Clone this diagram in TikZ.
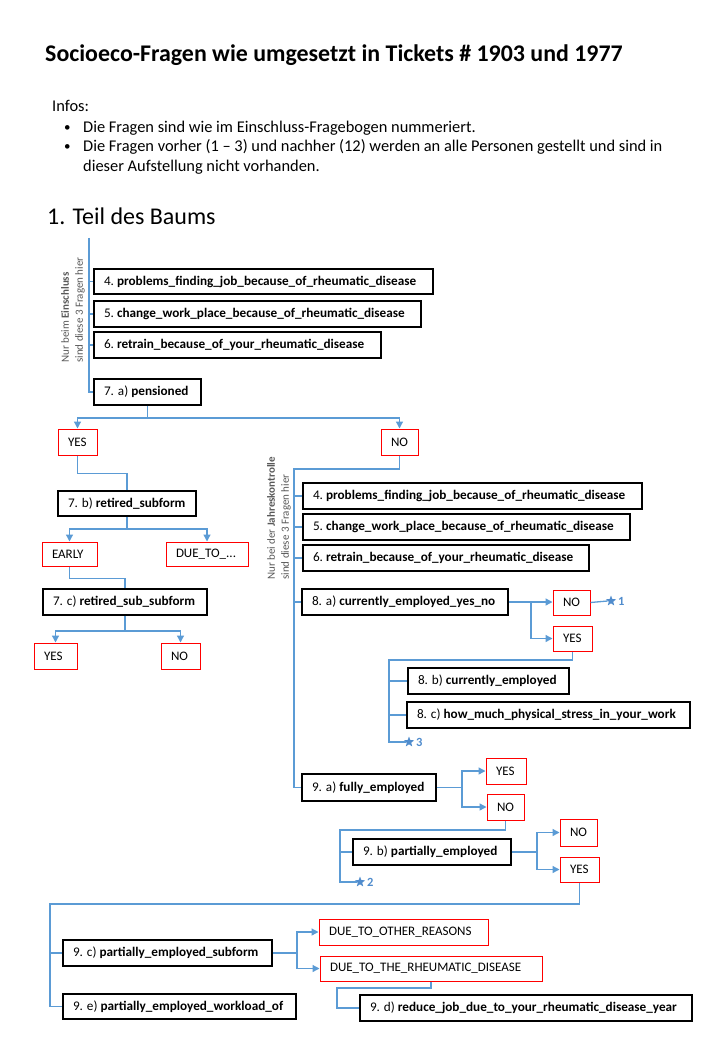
\documentclass[tikz,border=0pt]{standalone}
\usepackage{fontspec}
\setmainfont{Carlito}
\usetikzlibrary{arrows.meta,shapes.geometric}
\definecolor{lblue}{RGB}{91,155,213}
\definecolor{sblue}{RGB}{80,140,205}
\definecolor{rred}{RGB}{255,0,0}
\definecolor{tgray}{RGB}{89,89,89}
\newcommand{\bx}[7]{\node[#1, minimum height={#6pt-#4pt}, minimum width={#5pt-#3pt}] (#2) at ({(#3+#5)/2},{(#4+#6)/2}) {\makebox[\dimexpr#5pt-#3pt-20pt\relax][l]{#7}};}
\newcommand{\qt}[2]{#1~\textbf{#2}}
\tikzset{
 qbox/.style={draw=black, line width=1.8pt, inner xsep=10pt, inner ysep=0pt, font=\fontsize{13.2}{15}\selectfont},
 abox/.style={draw=rred, line width=1pt, inner xsep=10pt, inner ysep=0pt, font=\fontsize{13}{15}\selectfont},
 conn/.style={draw=lblue, line width=1.3pt},
 arr/.style={conn, -{Triangle[length=7pt,width=7pt]}},
 starnode/.style={star, star points=5, star point ratio=2.4, fill=sblue, minimum size=11pt, inner sep=0pt},
 stnum/.style={text=sblue, font=\fontsize{12.5}{14}\selectfont\bfseries, anchor=west, inner sep=0pt},
 txt/.style={anchor=base west, inner sep=0pt},
 info/.style={txt, font=\fontsize{16.4}{20}\selectfont},
 rot/.style={rotate=90, anchor=north west, align=left, inner sep=0pt, font=\fontsize{11}{14}\selectfont, text=tgray},
}
\begin{document}
\begin{tikzpicture}[x=1pt,y=-1pt]
\useasboundingbox[fill=white] (0,0) rectangle (720,1040);
% header
\node[txt, font=\fontsize{23.9}{28}\selectfont\bfseries] (title) at (45,62) {Socioeco-Fragen wie umgesetzt in Tickets \# 1903 und 1977};
\node[info] (infos) at (52,112) {Infos:};
\node[info, font=\fontsize{13}{20}\selectfont] (b1) at (64,132) {•};
\node[info] (b1t) at (83,133) {Die Fragen sind wie im Einschluss-Fragebogen nummeriert.};
\node[info, font=\fontsize{13}{20}\selectfont] (b2) at (64,151) {•};
\node[info] (b2t) at (83,152) {Die Fragen vorher (1 – 3) und nachher (12) werden an alle Personen gestellt und sind in};
\node[info] (b3t) at (83,172) {dieser Aufstellung nicht vorhanden.};
\node[txt, font=\fontsize{24}{28}\selectfont] (teil) at (47,225) {1. Teil des Baums};
% rotated notes
\node[rot] (rotL) at (61,363) {Nur beim \textbf{Einschluss}\\sind diese 3 Fragen hier};
\node[rot] (rotR) at (267,580) {Nur bei der \textbf{Jahreskontrolle}\\sind diese 3 Fragen hier};
% left question boxes
\bx{qbox}{q4L}{94}{269}{433}{294}{\qt{4.}{problems\_finding\_job\_because\_of\_rheumatic\_disease}}
\bx{qbox}{q5L}{94}{301}{421}{327}{\qt{5.}{change\_work\_place\_because\_of\_rheumatic\_disease}}
\bx{qbox}{q6L}{94}{332}{381}{358}{\qt{6.}{retrain\_because\_of\_your\_rheumatic\_disease}}
\bx{qbox}{pens}{94}{379}{201}{405}{\qt{7. a)}{pensioned}}
\bx{abox}{yes7}{58}{429}{97}{455}{YES}
\bx{abox}{no7}{381}{429}{418}{455}{NO}
\bx{qbox}{q7b}{58}{491}{196}{516}{\qt{7. b)}{retired\_subform}}
\bx{abox}{early}{42}{542}{97}{566}{EARLY}
\bx{abox}{due}{166}{542}{248}{566}{DUE\_TO\_...}
\bx{qbox}{q7c}{43}{589}{207}{615}{\qt{7. c)}{retired\_sub\_subform}}
\bx{abox}{yes7c}{34}{643}{77}{669}{YES}
\bx{abox}{no7c}{161}{643}{200}{669}{NO}
% right question boxes
\bx{qbox}{q4R}{303}{483}{642}{509}{\qt{4.}{problems\_finding\_job\_because\_of\_rheumatic\_disease}}
\bx{qbox}{q5R}{303}{514}{630}{540}{\qt{5.}{change\_work\_place\_because\_of\_rheumatic\_disease}}
\bx{qbox}{q6R}{303}{545}{589}{571}{\qt{6.}{retrain\_because\_of\_your\_rheumatic\_disease}}
\bx{qbox}{q8a}{302}{589}{508}{615}{\qt{8. a)}{currently\_employed\_yes\_no}}
\bx{abox}{no8}{553}{590}{590}{615}{NO}
\bx{abox}{yes8}{553}{626}{592}{651}{YES}
\bx{qbox}{q8b}{408}{668}{569}{694}{\qt{8. b)}{currently\_employed}}
\bx{qbox}{q8c}{407}{702}{690}{728}{\qt{8. c)}{how\_much\_physical\_stress\_in\_your\_work}}
\bx{qbox}{q9a}{302}{774}{436}{801}{\qt{9. a)}{fully\_employed}}
\bx{abox}{yes9}{486}{758}{526}{784}{YES}
\bx{abox}{no9}{487}{794}{524}{820}{NO}
\bx{qbox}{q9b}{353}{839}{511}{865}{\qt{9. b)}{partially\_employed}}
\bx{abox}{no9b}{560}{819}{597}{846}{NO}
\bx{abox}{yes9b}{560}{857}{599}{882}{YES}
\bx{qbox}{q9c}{63}{940}{272}{966}{\qt{9. c)}{partially\_employed\_subform}}
\bx{qbox}{q9e}{63}{994}{296}{1019}{\qt{9. e)}{partially\_employed\_workload\_of}}
\bx{abox}{dOther}{319}{919}{488}{945}{DUE\_TO\_OTHER\_REASONS}
\bx{abox}{dThe}{320}{956}{542}{981}{DUE\_TO\_THE\_RHEUMATIC\_DISEASE}
\bx{qbox}{q9d}{360}{995}{692}{1021}{\qt{9. d)}{reduce\_job\_due\_to\_your\_rheumatic\_disease\_year}}
% stars
\node[starnode] (st1) at (611,601) {};
\node[stnum] (n1) at (618,601) {1};
\node[starnode] (st3) at (409,742) {};
\node[stnum] (n3) at (416,742) {3};
\node[starnode] (st2) at (360,882) {};
\node[stnum] (n2) at (367,882) {2};
% coordinates for buses
\coordinate (busL) at (89,238);
\coordinate (busR) at (294,469);
\coordinate (bus3) at (389,660);
\coordinate (bus2) at (340,830);
\coordinate (bus4) at (50,904);
\coordinate (k9d) at (337,988);
% left connectors
\draw[conn] (busL) |- (pens.west);
\draw[conn] (q4L.west) -- (q4L.west -| busL);
\draw[conn] (q5L.west) -- (q5L.west -| busL);
\draw[conn] (q6L.west) -- (q6L.west -| busL);
\draw[arr] (pens.south) -- ++(0,12) -| (yes7.north);
\draw[arr] (pens.south) -- ++(0,12) -| (no7.north);
\draw[conn] (yes7.south) -- ++(0,18) -| (q7b.north);
\draw[arr] (q7b.south) -- ++(0,12) -| (early.north);
\draw[arr] (q7b.south) -- ++(0,12) -| (due.north);
\draw[conn] (early.south) -- ++(0,12) -| (q7c.north);
\draw[arr] (q7c.south) -- ++(0,15) -| (yes7c.north);
\draw[arr] (q7c.south) -- ++(0,15) -| (no7c.north);
% right connectors
\draw[conn] (no7.south) |- (busR) |- (q9a.west);
\draw[conn] (q4R.west) -- (q4R.west -| busR);
\draw[conn] (q5R.west) -- (q5R.west -| busR);
\draw[conn] (q6R.west) -- (q6R.west -| busR);
\draw[conn] (q8a.west) -- (q8a.west -| busR);
\draw[arr] (q8a.east) -- (q8a.east -| no8.west);
\draw[arr] (q8a.east) -- ++(22,0) |- (yes8.west);
\draw[conn] (no8.east) -- (st1.west);
\draw[conn] (yes8.south) |- (bus3) |- (st3.west);
\draw[conn] (q8b.west) -- (q8b.west -| bus3);
\draw[conn] (q8c.west) -- (q8c.west -| bus3);
\draw[arr] (q9a.east) -- ++(25,0) |- (yes9.west);
\draw[arr] (q9a.east) -- ++(25,0) |- (no9.west);
\draw[conn] (no9.south) |- (bus2) |- (st2.west);
\draw[conn] (q9b.west) -- (q9b.west -| bus2);
\draw[arr] (q9b.east) -- ++(25,0) |- (no9b.west);
\draw[arr] (q9b.east) -- ++(25,0) |- (yes9b.west);
\draw[conn] (yes9b.south) |- (bus4) |- (q9e.west);
\draw[conn] (q9c.west) -- (q9c.west -| bus4);
\draw[arr] (q9c.east) -- ++(24,0) |- (dOther.west);
\draw[arr] (q9c.east) -- ++(24,0) |- (dThe.west);
\draw[conn] (dThe.south) |- (k9d) |- (q9d.west);
\end{tikzpicture}
\end{document}
